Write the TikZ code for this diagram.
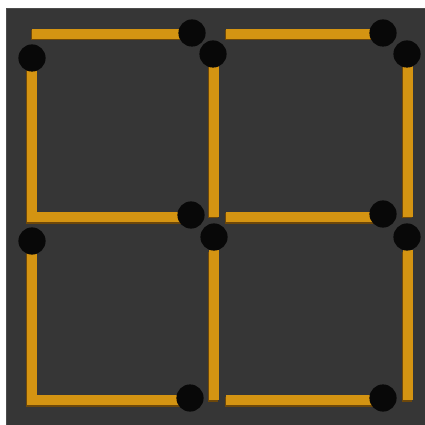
\documentclass[tikz,border=0pt]{standalone}
\usepackage{xcolor}
\usepackage{tikz}
\definecolor{boardgray}{RGB}{54, 54, 54}
\definecolor{stickgold}{RGB}{212, 148, 18}
\definecolor{stickshade}{RGB}{110, 72, 10}
\definecolor{headblack}{RGB}{8, 8, 8}

\begin{document}
\begin{tikzpicture}[
    x=0.025cm, y=-0.025cm,
    stick/.style={draw=stickgold, line width=2.5mm},
    shade/.style={draw=stickshade, line width=2.5mm},
    head/.style={fill=headblack}
]

\useasboundingbox (0,0) rectangle (425,425);
\fill[white] (0,0) rectangle (425,425);
\fill[boardgray] (6,8) rectangle (425,425);
\draw[black!70, line width=0.4pt] (6,425) -- (6,8) -- (425,8);

% sticks (shadow first, then the stick itself)
\foreach \xa/\ya/\xb/\yb in {
    32/34/185/34, 32/65/32/222, 27/217/185/217, 214/65/214/217,
    226/34/378/34, 226/217/378/217, 408/65/408/217,
    32/250/32/405, 27/400/185/400, 214/250/214/400,
    226/400/378/400, 408/250/408/400}{
    \draw[shade] (\xa-1,\ya+1.5) -- (\xb-1,\yb+1.5);
    \draw[stick] (\xa,\ya) -- (\xb,\yb);
}

% match heads
\foreach \hx/\hy in {
    192/33, 32/58, 213/54, 191/215,
    383/33, 407/54, 383/214,
    32/241, 214/237, 190/398,
    407/237, 383/398}{
    \fill[head] (\hx,\hy) circle[radius=3.4mm];
}

\end{tikzpicture}
\end{document}
